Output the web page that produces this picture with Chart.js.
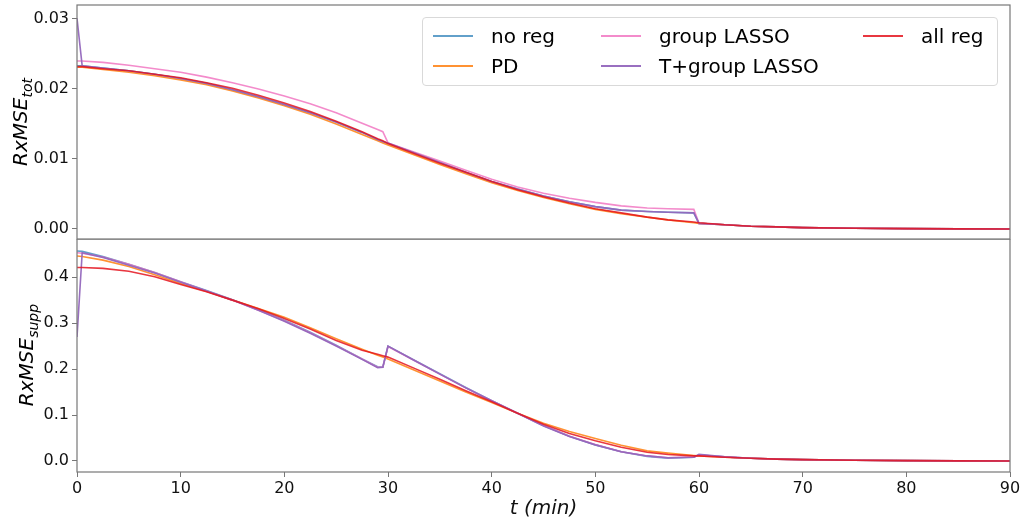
<!DOCTYPE html>
<html>
<head>
<meta charset="utf-8">
<script src="https://cdn.jsdelivr.net/npm/chart.js@4/dist/chart.umd.min.js"></script>
<style>
  body { margin: 0; background: #fff; font-family: "DejaVu Sans", sans-serif; }
  #wrap { position: relative; width: 1020px; height: 523px; overflow: hidden; }
  canvas { position: absolute; left: 0; }
  #topChart { top: 0; }
  #botChart { top: 239px; }
  .ylab { position: absolute; font-size: 20px; font-style: italic; white-space: nowrap;
          transform: translate(-50%, -50%) rotate(-90deg); }
  .ylab sub { font-size: 14px; }
  #legend { position: absolute; left: 422px; top: 17px; width: 576px; height: 69px;
            border: 1px solid #d9d9d9; border-radius: 4px; background: rgba(255,255,255,0.8); box-sizing: border-box; }
  .li { position: absolute; font-size: 20px; line-height: 24px; white-space: nowrap; }
  .sw { position: absolute; height: 2px; width: 40px; }
</style>
</head>
<body>
<div id="wrap">
  <canvas id="topChart" width="1020" height="240"></canvas>
  <canvas id="botChart" width="1020" height="284"></canvas>
  <div class="ylab" style="left:21px; top:122px;">RxMSE<sub>tot</sub></div>
  <div class="ylab" style="left:27px; top:355px;">RxMSE<sub>supp</sub></div>
  <div id="legend"></div>
</div>
<script>
// time axis (minutes)
const times = [0, 0.5, 2.5, 5, 7.5, 10, 12.5, 15, 17.5, 20, 22.5, 25, 27.5, 29, 29.5, 30, 32.5, 35, 37.5, 40,
               42.5, 45, 47.5, 50, 52.5, 55, 57, 59.5, 60, 62.5, 65, 67.5, 70, 75, 80, 85, 90];

const seriesNames = ['no reg', 'PD', 'group LASSO', 'T+group LASSO', 'all reg'];
const seriesColors = ['rgba(31,119,180,0.7)', 'rgba(255,127,14,0.85)', 'rgba(240,110,190,0.8)', 'rgba(148,103,189,0.95)', 'rgba(228,20,30,0.85)'];

// RxMSE_tot (top panel)
const totNoReg = [0.0233, 0.0233, 0.0230, 0.0226, 0.0221, 0.0215, 0.0208, 0.0199, 0.0189, 0.0178, 0.0166, 0.0153, 0.0138, 0.0128, 0.0125, 0.0122, 0.0109, 0.0095, 0.0081, 0.0068,
                  0.0057, 0.0047, 0.0039, 0.0032, 0.0027, 0.0025, 0.0024, 0.0023, 0.0008, 0.0006, 0.0004, 0.0003, 0.0002, 0.0001, 0.00005, 0.00002, 0.0];
const totPD = [0.0231, 0.0231, 0.0228, 0.0224, 0.0219, 0.0213, 0.0206, 0.0197, 0.0187, 0.0176, 0.0164, 0.0150, 0.0135, 0.0126, 0.0123, 0.0120, 0.0106, 0.0092, 0.0079, 0.0066,
               0.0055, 0.0045, 0.0036, 0.0028, 0.0022, 0.0017, 0.0013, 0.0009, 0.0008, 0.0006, 0.0004, 0.0003, 0.0002, 0.0001, 0.00005, 0.00002, 0.0];
const totGroupLasso = [0.0240, 0.0240, 0.0238, 0.0234, 0.0229, 0.0224, 0.0217, 0.0209, 0.0200, 0.0190, 0.0179, 0.0166, 0.0151, 0.0142, 0.0139, 0.0123, 0.0110, 0.0097, 0.0084, 0.0071,
                       0.0060, 0.0051, 0.0044, 0.0038, 0.0033, 0.0030, 0.0029, 0.0028, 0.0008, 0.0006, 0.0004, 0.0003, 0.0002, 0.0001, 0.00005, 0.00002, 0.0];
const totTGroupLasso = [0.0301, 0.0233, 0.0230, 0.0226, 0.0221, 0.0215, 0.0208, 0.0199, 0.0189, 0.0178, 0.0166, 0.0153, 0.0138, 0.0128, 0.0125, 0.0123, 0.0109, 0.0095, 0.0081, 0.0068,
                        0.0057, 0.0047, 0.0039, 0.0032, 0.0027, 0.0025, 0.0024, 0.0023, 0.0008, 0.0006, 0.0004, 0.0003, 0.0002, 0.0001, 0.00005, 0.00002, 0.0];
const totAllReg = [0.0232, 0.0232, 0.0229, 0.0226, 0.0221, 0.0216, 0.0209, 0.0201, 0.0191, 0.0180, 0.0168, 0.0154, 0.0139, 0.0129, 0.0126, 0.0122, 0.0108, 0.0094, 0.0081, 0.0068,
                   0.0056, 0.0046, 0.0037, 0.0029, 0.0023, 0.0017, 0.0013, 0.0010, 0.0009, 0.0006, 0.0004, 0.0003, 0.0002, 0.0001, 0.00005, 0.00002, 0.0];

// RxMSE_supp (bottom panel)
const suppNoReg = [0.457, 0.456, 0.445, 0.428, 0.410, 0.390, 0.371, 0.351, 0.329, 0.306, 0.280, 0.252, 0.222, 0.205, 0.204, 0.250, 0.220, 0.190, 0.160, 0.131,
                   0.104, 0.077, 0.054, 0.035, 0.020, 0.010, 0.006, 0.008, 0.013, 0.009, 0.006, 0.004, 0.003, 0.0015, 0.0008, 0.0003, 0.0];
const suppPD = [0.446, 0.445, 0.437, 0.423, 0.405, 0.386, 0.369, 0.350, 0.332, 0.313, 0.290, 0.266, 0.243, 0.230, 0.226, 0.222, 0.198, 0.174, 0.150, 0.127,
                0.104, 0.082, 0.064, 0.049, 0.034, 0.022, 0.017, 0.012, 0.011, 0.008, 0.006, 0.004, 0.003, 0.0015, 0.0008, 0.0003, 0.0];
const suppGroupLasso = [0.453, 0.452, 0.444, 0.428, 0.410, 0.390, 0.370, 0.350, 0.328, 0.305, 0.279, 0.251, 0.222, 0.204, 0.204, 0.249, 0.219, 0.189, 0.159, 0.131,
                        0.104, 0.077, 0.054, 0.036, 0.020, 0.011, 0.007, 0.009, 0.013, 0.009, 0.006, 0.004, 0.003, 0.0015, 0.0008, 0.0003, 0.0];
const suppTGroupLasso = [0.270, 0.453, 0.443, 0.426, 0.409, 0.389, 0.370, 0.350, 0.328, 0.304, 0.278, 0.250, 0.221, 0.203, 0.204, 0.250, 0.219, 0.189, 0.159, 0.131,
                         0.104, 0.076, 0.053, 0.035, 0.020, 0.011, 0.007, 0.008, 0.0145, 0.009, 0.006, 0.004, 0.003, 0.0015, 0.0008, 0.0003, 0.0];
const suppAllReg = [0.421, 0.421, 0.419, 0.413, 0.401, 0.384, 0.368, 0.350, 0.331, 0.310, 0.287, 0.262, 0.241, 0.232, 0.229, 0.226, 0.202, 0.178, 0.153, 0.129,
                    0.104, 0.080, 0.060, 0.044, 0.030, 0.019, 0.014, 0.011, 0.011, 0.008, 0.006, 0.004, 0.003, 0.0015, 0.0008, 0.0003, 0.0];

const xTicks = [0, 10, 20, 30, 40, 50, 60, 70, 80, 90];
const totTicks = [0, 0.01, 0.02, 0.03];
const suppTicks = [0, 0.1, 0.2, 0.3, 0.4];

const AXIS = '#777';
const FONT = { family: 'DejaVu Sans', size: 16 };

const framePlugin = {
  id: 'frame',
  afterDraw(chart) {
    const a = chart.chartArea, c = chart.ctx;
    c.save();
    c.strokeStyle = AXIS;
    c.lineWidth = 1.2;
    c.strokeRect(a.left, a.top, a.right - a.left, a.bottom - a.top);
    c.restore();
  }
};

function makeDatasets(lists) {
  return lists.map((vals, i) => ({
    label: seriesNames[i],
    data: times.map((t, k) => ({ x: t, y: vals[k] })),
    borderColor: seriesColors[i],
    borderWidth: 1.6,
    pointRadius: 0,
    fill: false,
    tension: 0,
    order: lists.length - i
  }));
}

function yScale(min, max, ticks, digits) {
  return {
    type: 'linear', min: min, max: max,
    afterBuildTicks: s => { s.ticks = ticks.map(v => ({ value: v })); },
    afterFit: s => { s.width = 77; s.paddingTop = 0; s.paddingBottom = 0; },
    ticks: { font: FONT, color: '#111', padding: 3, callback: v => Number(v).toFixed(digits) },
    grid: { drawOnChartArea: false, color: AXIS, tickLength: 5 },
    border: { display: false }
  };
}

function commonOptions(padding) {
  return {
    responsive: false,
    animation: false,
    devicePixelRatio: 1,
    layout: { padding: padding },
    plugins: { legend: { display: false }, tooltip: { enabled: false } }
  };
}

// top panel
const topOpts = commonOptions({ top: 5, right: 10, bottom: 1, left: 0 });
topOpts.scales = {
  x: { type: 'linear', min: 0, max: 90, display: false },
  y: yScale(-0.00143, 0.032, totTicks, 2)
};
new Chart(document.getElementById('topChart'), {
  type: 'line',
  data: { datasets: makeDatasets([totNoReg, totPD, totGroupLasso, totTGroupLasso, totAllReg]) },
  options: topOpts,
  plugins: [framePlugin]
});

// bottom panel
const botOpts = commonOptions({ top: 0, right: 10, bottom: 0, left: 0 });
botOpts.scales = {
  x: {
    type: 'linear', min: 0, max: 90,
    afterBuildTicks: s => { s.ticks = xTicks.map(v => ({ value: v })); },
    afterFit: s => { s.height = 51; s.paddingLeft = 0; s.paddingRight = 0; },
    ticks: { font: FONT, color: '#111', padding: 2, maxRotation: 0 },
    grid: { drawOnChartArea: false, color: AXIS, tickLength: 5 },
    border: { display: false },
    title: { display: true, text: 't (min)', font: { family: 'DejaVu Sans', size: 20, style: 'italic' }, color: '#111', padding: { top: 0, bottom: 2 } }
  },
  y: yScale(-0.024, 0.483, suppTicks, 1)
};
new Chart(document.getElementById('botChart'), {
  type: 'line',
  data: { datasets: makeDatasets([suppNoReg, suppPD, suppGroupLasso, suppTGroupLasso, suppAllReg]) },
  options: botOpts,
  plugins: [framePlugin]
});

// legend, three columns filled column-wise like the original
const legend = document.getElementById('legend');
const colX = [10, 178, 440];
const rowY = [18, 48];
seriesNames.forEach((name, i) => {
  const col = Math.floor(i / 2), row = i % 2;
  const sw = document.createElement('div');
  sw.className = 'sw';
  sw.style.left = colX[col] + 'px';
  sw.style.top = (rowY[row] - 1) + 'px';
  sw.style.background = seriesColors[i];
  legend.appendChild(sw);
  const tx = document.createElement('div');
  tx.className = 'li';
  tx.style.left = (colX[col] + 58) + 'px';
  tx.style.top = (rowY[row] - 12) + 'px';
  tx.textContent = name;
  legend.appendChild(tx);
});
</script>
</body>
</html>
